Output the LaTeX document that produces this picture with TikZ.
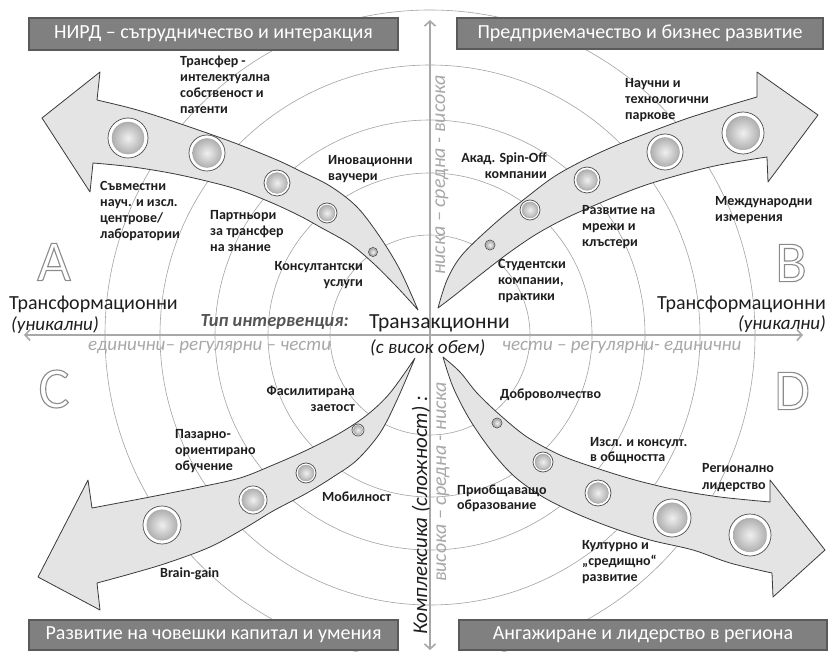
\documentclass[tikz,border=0pt]{standalone}
\usepackage{fontspec}
\setmainfont{Carlito}
\usetikzlibrary{arrows.meta}
\definecolor{ringgray}{HTML}{A3A3A3}
\definecolor{axisgray}{HTML}{A8A8A8}
\definecolor{boxgray}{HTML}{808080}
\definecolor{boxedge}{HTML}{5A5A5A}
\definecolor{arrowfill}{HTML}{E4E4E4}
\definecolor{arrowedge}{HTML}{3A3A3A}
\definecolor{softtext}{HTML}{A8A8A8}
\definecolor{midtext}{HTML}{555555}
\definecolor{darktext}{HTML}{1E1E1E}
\definecolor{lettergray}{HTML}{8C8C8C}
\tikzset{
  ring/.style={draw=ringgray, line width=0.6pt},
  axisline/.style={draw=axisgray, line width=1.6pt,
    {Straight Barb[length=5pt,width=11pt]}-{Straight Barb[length=5pt,width=11pt]}},
  titlebox/.style={fill=boxgray, draw=boxedge, line width=1.2pt, text=white,
    font=\fontsize{20}{24}\selectfont, minimum width=368pt, minimum height=31pt, inner sep=0pt},
  bigarrow/.style={fill=arrowfill, draw=arrowedge, line width=0.8pt, line join=round},
  lab/.style={font=\bfseries\fontsize{14}{16}\selectfont, text=darktext, align=left,
    anchor=base west, inner sep=0pt},
  labr/.style={lab, align=right, anchor=base east},
  bigword/.style={font=\fontsize{20}{24}\selectfont, text=darktext, inner sep=0pt},
  smallit/.style={font=\itshape\fontsize{19}{22}\selectfont, text=darktext, inner sep=0pt},
  softit/.style={font=\itshape\fontsize{19}{22}\selectfont, text=softtext, inner sep=0pt},
  bigletter/.style={font=\fontsize{58}{60}\selectfont, text=lettergray, inner sep=0pt},
}
\newcommand\bubble[3]{%
  \fill[white] (#1,#2) circle[radius=#3pt];
  \shade[inner color=gray!12, outer color=gray!62] (#1,#2) circle[radius=0.8*#3pt];
  \draw[gray!70, line width=0.4pt] (#1,#2) circle[radius=0.8*#3pt];
  \draw[black!70, line width=0.7pt] (#1,#2) circle[radius=#3pt];}
\newcommand\outlinetext[1]{\special{pdf:literal direct 1 Tr 1.1 w}#1\special{pdf:literal direct 0 Tr}}
\begin{document}
\begin{tikzpicture}[x=1pt,y=-1pt]
\useasboundingbox (0,0) rectangle (830,652);
\fill[white] (0,0) rectangle (830,652);
% concentric rings
\coordinate (O) at (430,335);
\foreach \r in {100,162,215,270,325}
  \draw[ring] (O) circle[radius=\r pt];
% axes
\coordinate (xl) at (24,335);
\coordinate (xr) at (803,335);
\coordinate (yt) at (430,20);
\coordinate (yb) at (430,650);
\draw[axisline] (xl) -- (xr);
\draw[axisline] (yb) -- (yt);
% title boxes
\node[titlebox, minimum width=369pt, minimum height=32pt] (tA) at (213.5,34) {НИРД – сътрудничество и интеракция};
\node[titlebox, minimum width=366pt, minimum height=31pt] (tB) at (640,33.5) {Предприемачество и бизнес развитие};
\node[titlebox, minimum width=369pt, minimum height=30pt] (tC) at (213.5,635) {Развитие на човешки капитал и умения};
\node[titlebox, minimum width=368pt, minimum height=30pt] (tD) at (643,635) {Ангажиране и лидерство в региона};
% letters
\node[bigletter] (lA) at (54,262) {\outlinetext{A}};
\node[bigletter] (lB) at (791,263) {\outlinetext{B}};
\node[bigletter] (lC) at (54,389) {\outlinetext{C}};
\node[bigletter] (lD) at (792,391) {\outlinetext{D}};
% arrow A
\draw[bigarrow] plot[smooth, tension=0.55] coordinates {(418,310) (400,270) (380,237) (357,207) (330,186) (300,171) (277,160) (240,145) (207,133) (160,117) (130,108) (97,100)}
  -- (100,72) -- (42,118) -- (90,192) -- (93,163)
  -- plot[smooth, tension=0.55] coordinates {(93,163) (133,167) (180,175) (233,188) (270,202) (300,216) (320,227) (350,244) (373,263) (397,287) (418,310)} -- cycle;
% arrow B
\draw[bigarrow] plot[smooth, tension=0.55] coordinates {(438,308) (447,280) (462,255) (493,225) (527,197) (560,173) (610,148) (677,122) (720,108) (757,97)}
  -- (757,72) -- (818,115) -- (768,182) -- (767,157)
  -- plot[smooth, tension=0.55] coordinates {(767,157) (710,167) (643,186) (577,213) (540,232) (510,252) (480,275) (455,295) (438,308)} -- cycle;
% arrow C
\draw[bigarrow] plot[smooth, tension=0.55] coordinates {(415,358) (390,393) (367,415) (340,433) (307,450) (273,465) (240,478) (200,487) (150,497) (92,508)}
  -- (88,480) -- (38,577) -- (100,610) -- (97,583)
  -- plot[smooth, tension=0.55] coordinates {(97,583) (130,574) (167,563) (210,547) (245,528) (273,511) (307,493) (333,477) (357,460) (380,433) (397,400) (415,358)} -- cycle;
% arrow D
\draw[bigarrow] plot[smooth, tension=0.55] coordinates {(443,357) (460,372) (477,393) (500,415) (527,437) (560,455) (593,467) (635,480) (677,490) (720,497) (770,502)}
  -- (770,480) -- (825,550) -- (773,597) -- (772,573)
  -- plot[smooth, tension=0.55] coordinates {(772,573) (730,563) (693,550) (650,540) (610,527) (575,513) (543,497) (515,477) (493,453) (470,420) (453,387) (443,357)} -- cycle;
% bubbles
\bubble{128}{138}{20}\bubble{207}{153}{18}\bubble{277}{183}{13}\bubble{327}{213}{10}\bubble{373}{252}{4.5}
\bubble{490}{245}{5}\bubble{530}{210}{10}\bubble{587}{180}{13}\bubble{665}{152}{18}\bubble{743}{133}{21}
\bubble{358}{430}{6}\bubble{306}{473}{10}\bubble{253}{500}{14}\bubble{162}{525}{19}
\bubble{497}{423}{5}\bubble{543}{462}{10}\bubble{598}{493}{13}\bubble{672}{518}{19}\bubble{750}{535}{21}
% axis texts
\node[bigword, anchor=west] (trL) at (9,304) {Трансформационни};
\node[smallit, anchor=west] (unL) at (11,325) {(уникални)};
\node[bigword, anchor=east] (trR) at (826,304) {Трансформационни};
\node[smallit, anchor=east] (unR) at (826,324) {(уникални)};
\node[bigword, font=\fontsize{21.5}{24}\selectfont, anchor=west] (tran) at (369,323) {Транзакционни};
\node[smallit, anchor=west] (vol) at (370,348) {(с висок обем)};
\node[smallit, font=\bfseries\itshape\fontsize{18.5}{22}\selectfont, text=midtext, anchor=east] (tip) at (349,322) {Тип интервенция:};
\node[softit, anchor=west] (scL) at (88,347) {единични– регулярни – чести};
\node[softit, anchor=west] (scR) at (502,347) {чести – регулярни- единични};
\node[softit, font=\itshape\fontsize{20}{22}\selectfont, rotate=90] (scT) at (442,175) {ниска – средна - висока};
\node[smallit, font=\itshape\fontsize{21}{22}\selectfont, rotate=90] (cx) at (421,515) {Комплексика (сложност) :};
\node[softit, font=\itshape\fontsize{20}{22}\selectfont, rotate=90] (scB) at (443,482) {висока – средна - ниска};
% labels A
\node[lab] (a1) at (180,114) {Трансфер -\\интелектуална\\собственост и\\патенти};
\node[lab] (a2) at (100,239) {Съвместни\\науч. и изсл.\\центрове/\\лаборатории};
\node[lab] (a3) at (210,252) {Партньори\\за трансфер\\на знание};
\node[lab] (a4) at (328,181) {Иновационни\\ваучери};
\node[labr] (a5) at (363,287) {Консултантски\\услуги};
% labels B
\node[lab] (b1) at (625,120) {Научни и\\технологични\\паркове};
\node[labr] (b2) at (547,179) {Акад. Spin-Off\\компании};
\node[lab] (b3) at (582,247) {Развитие на\\мрежи и\\клъстери};
\node[lab] (b4) at (715,222) {Международни\\измерения};
\node[lab] (b5) at (498,301) {Студентски\\компании,\\практики};
% labels C
\node[labr] (c1) at (355,411) {Фасилитирана\\заетост};
\node[lab] (c2) at (175,470) {Пазарно-\\ориентирано\\обучение};
\node[lab] (c3) at (322,501) {Мобилност};
\node[lab] (c4) at (160,577) {Brain-gain};
% labels D
\node[lab] (d1) at (500,398) {Доброволчество};
\node[lab, font=\bfseries\fontsize{14}{15}\selectfont] (d2) at (590,461) {Изсл. и консулт.\\в общността};
\node[lab, font=\bfseries\fontsize{14}{17}\selectfont] (d3) at (702,489) {Регионално\\лидерство};
\node[lab, font=\bfseries\fontsize{14}{15}\selectfont] (d4) at (457,509) {Приобщаващо\\образование};
\node[lab] (d5) at (582,581) {Културно и\\„средищно“\\развитие};
\end{tikzpicture}
\end{document}
